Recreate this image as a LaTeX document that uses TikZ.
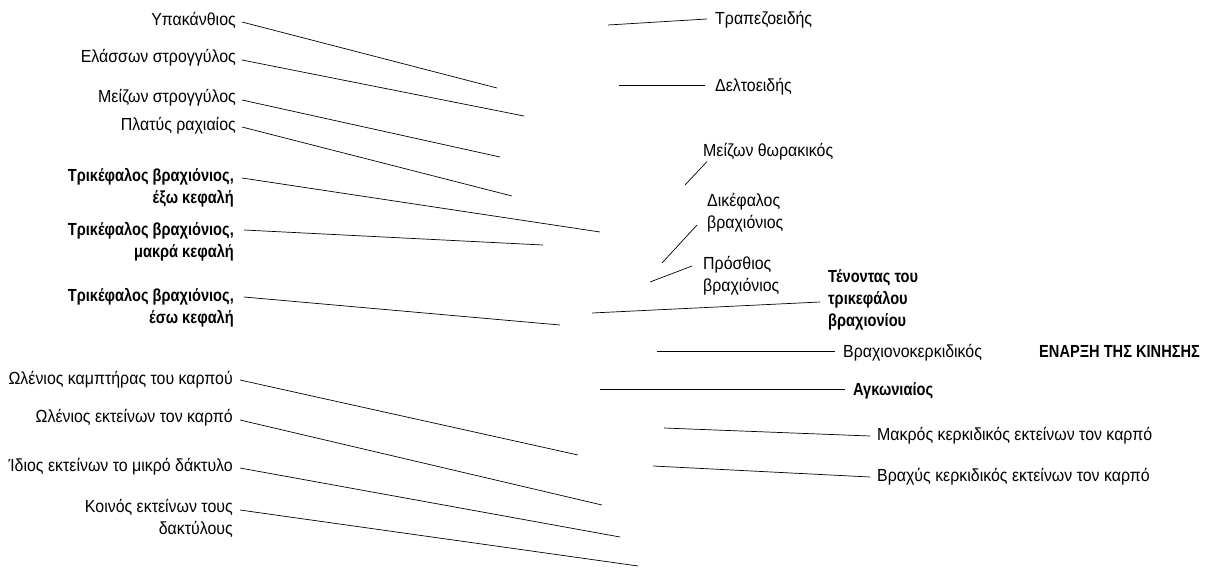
\documentclass[tikz,border=0pt]{standalone}
\usepackage{fontspec}
\setmainfont{Liberation Sans}[FakeStretch=0.91, BoldFeatures={FakeStretch=0.835}]
\usepackage{tikz}

\tikzset{
  lbl/.style={font=\fontsize{17.5}{22}\selectfont, inner sep=1pt},
  lblb/.style={lbl, font=\fontsize{17.5}{22}\selectfont\bfseries},
  lead/.style={line width=0.7pt}
}

\begin{document}
\begin{tikzpicture}[x=1pt,y=-1pt]
\useasboundingbox (0,0) rectangle (1215,570);

% Left column labels (right aligned)
\node[lbl, anchor=east] (subsp) at (237,20) {Υπακάνθιος};
\node[lbl, anchor=east] (termin) at (237,58) {Ελάσσων στρογγύλος};
\node[lbl, anchor=east] (termaj) at (237,98) {Μείζων στρογγύλος};
\node[lbl, anchor=east] (latdor) at (237,126) {Πλατύς ραχιαίος};
\node[lblb, anchor=east, align=right] (trilat) at (235,188) {Τρικέφαλος βραχιόνιος,\\ έξω κεφαλή};
\node[lblb, anchor=east, align=right] (trilong) at (235,242) {Τρικέφαλος βραχιόνιος,\\ μακρά κεφαλή};
\node[lblb, anchor=east, align=right] (trimed) at (235,308) {Τρικέφαλος βραχιόνιος,\\ έσω κεφαλή};
\node[lbl, anchor=east] (flexcu) at (234,380) {Ωλένιος καμπτήρας του καρπού};
\node[lbl, anchor=east] (extcu) at (234,418) {Ωλένιος εκτείνων τον καρπό};
\node[lbl, anchor=east] (extmin) at (234,467) {Ίδιος εκτείνων το μικρό δάκτυλο};
\node[lbl, anchor=east, align=right] (extdig) at (234,518) {Κοινός εκτείνων τους\\ δακτύλους};

% Left column end points on the arm
\coordinate (subspE) at (497,88);
\coordinate (terminE) at (524,116);
\coordinate (termajE) at (500,157);
\coordinate (latdorE) at (512,196);
\coordinate (trilatE) at (600,232);
\coordinate (trilongE) at (543,245);
\coordinate (trimedE) at (560,325);
\coordinate (flexcuE) at (578,455);
\coordinate (extcuE) at (602,505);
\coordinate (extminE) at (620,537);
\coordinate (extdigE) at (638,566);

\draw[lead] ([xshift=5pt,yshift=-2pt]subsp.east) -- (subspE);
\draw[lead] ([xshift=5pt,yshift=-2pt]termin.east) -- (terminE);
\draw[lead] ([xshift=5pt,yshift=-2pt]termaj.east) -- (termajE);
\draw[lead] ([xshift=5pt,yshift=-1pt]latdor.east) -- (latdorE);
\draw[lead] ([xshift=7pt,yshift=10pt]trilat.east) -- (trilatE);
\draw[lead] ([xshift=9pt,yshift=12pt]trilong.east) -- (trilongE);
\draw[lead] ([xshift=9pt,yshift=11pt]trimed.east) -- (trimedE);
\draw[lead] ([xshift=6pt]flexcu.east) -- (flexcuE);
\draw[lead] ([xshift=6pt,yshift=-2pt]extcu.east) -- (extcuE);
\draw[lead] ([xshift=6pt,yshift=-1pt]extmin.east) -- (extminE);
\draw[lead] ([xshift=6pt,yshift=8pt]extdig.east) -- (extdigE);

% Right column labels (left aligned)
\node[lbl, anchor=west] (trap) at (714,20) {Τραπεζοειδής};
\node[lbl, anchor=west] (delt) at (714,87) {Δελτοειδής};
\node[lbl, anchor=west] (pecmaj) at (702,152) {Μείζων θωρακικός};
\node[lbl, anchor=west, align=left] (bicep) at (706,213) {Δικέφαλος\\ βραχιόνιος};
\node[lbl, anchor=west, align=left] (brach) at (702,276) {Πρόσθιος\\ βραχιόνιος};
\node[lblb, anchor=west, align=left] (tend) at (827,300) {Τένοντας του\\ τρικεφάλου\\ βραχιονίου};
\node[lbl, anchor=west] (brrad) at (842,353) {Βραχιονοκερκιδικός};
\node[lblb, anchor=west] (start) at (1038,351) {ΕΝΑΡΞΗ ΤΗΣ ΚΙΝΗΣΗΣ};
\node[lblb, anchor=west] (ancon) at (852,391) {Αγκωνιαίος};
\node[lbl, anchor=west] (extrl) at (876,436) {Μακρός κερκιδικός εκτείνων τον καρπό};
\node[lbl, anchor=west] (extrb) at (876,477) {Βραχύς κερκιδικός εκτείνων τον καρπό};

% Right column end points on the arm
\coordinate (trapE) at (608,25);
\coordinate (deltE) at (619,85);
\coordinate (pecmajE) at (685,185);
\coordinate (bicepE) at (662,263);
\coordinate (brachE) at (650,282);
\coordinate (tendE) at (592,313);
\coordinate (brradE) at (657,351);
\coordinate (anconE) at (600,389);
\coordinate (extrlE) at (664,428);
\coordinate (extrbE) at (653,466);

\draw[lead] ([xshift=-7pt,yshift=1pt]trap.west) -- (trapE);
\draw[lead] ([xshift=-9pt,yshift=2pt]delt.west) -- (deltE);
\draw[lead] ([xshift=5pt,yshift=0pt]pecmaj.south west) -- (pecmajE);
\draw[lead] ([xshift=-9pt,yshift=-12pt]bicep.west) -- (bicepE);
\draw[lead] ([xshift=-10pt,yshift=10pt]brach.west) -- (brachE);
\draw[lead] ([xshift=-7pt,yshift=-2pt]tend.west) -- (tendE);
\draw[lead] ([xshift=-7pt,yshift=2pt]brrad.west) -- (brradE);
\draw[lead] ([xshift=-7pt,yshift=2pt]ancon.west) -- (anconE);
\draw[lead] ([xshift=-6pt,yshift=0pt]extrl.west) -- (extrlE);
\draw[lead] ([xshift=-6pt,yshift=0pt]extrb.west) -- (extrbE);
\end{tikzpicture}
\end{document}
